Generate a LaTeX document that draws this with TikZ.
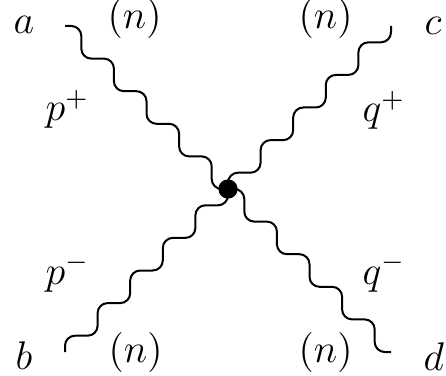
\documentclass[tikz,border=0pt]{standalone}
\begin{document}
\begin{tikzpicture}[x=0.3pt,y=-0.3pt,
  photon/.style={line width=0.6pt, rounded corners=3pt},
  vtx/.style={circle, fill=black, inner sep=0pt, minimum size=5.7pt},
  lbl/.style={inner sep=0pt, anchor=base west, font=\fontsize{12}{14}\selectfont}]
\useasboundingbox (0,0) rectangle (446,375);
\def\s{32.6}
\def\h{16.3}
\coordinate (ea) at (65,26);
\coordinate (ec) at (391,26);
\coordinate (ed) at (391,352);
\coordinate (eb) at (65,352);
\node[vtx] (v) at (228,189) {};
% top-left line
\draw[photon] (v.center) -- ++(-\h,0) -- ++(0,-\s) -- ++(-\s,0) -- ++(0,-\s) -- ++(-\s,0)
  -- ++(0,-\s) -- ++(-\s,0) -- ++(0,-\s) -- ++(-\s,0) -- ++(0,-\s) -- (ea);
% top-right line
\draw[photon] (v.center) -- ++(0,-\h) -- ++(\s,0) -- ++(0,-\s) -- ++(\s,0) -- ++(0,-\s)
  -- ++(\s,0) -- ++(0,-\s) -- ++(\s,0) -- ++(0,-\s) -- ++(\s,0) -- (ec);
% bottom-right line
\draw[photon] (v.center) -- ++(\h,0) -- ++(0,\s) -- ++(\s,0) -- ++(0,\s) -- ++(\s,0)
  -- ++(0,\s) -- ++(\s,0) -- ++(0,\s) -- ++(\s,0) -- ++(0,\s) -- (ed);
% bottom-left line
\draw[photon] (v.center) -- ++(0,\h) -- ++(-\s,0) -- ++(0,\s) -- ++(-\s,0) -- ++(0,\s)
  -- ++(-\s,0) -- ++(0,\s) -- ++(-\s,0) -- ++(0,\s) -- ++(-\s,0) -- (eb);
\node[vtx] at (v) {};
% labels
\node[lbl] (la) at (13,34) {$a$};
\node[lbl] (ntl) at (107,29) {$(n)$};
\node[lbl] (ntr) at (298,29) {$(n)$};
\node[lbl] (lc) at (424,35) {$c$};
\node[lbl] (pp) at (45,121) {$p^+$};
\node[lbl] (qp) at (362,122) {$q^+$};
\node[lbl] (pm) at (45,284) {$p^-$};
\node[lbl] (qm) at (362,284) {$q^-$};
\node[lbl] (lb) at (15,369) {$b$};
\node[lbl] (nbl) at (108,362) {$(n)$};
\node[lbl] (nbr) at (298,362) {$(n)$};
\node[lbl] (ld) at (423,370) {$d$};
\end{tikzpicture}
\end{document}
